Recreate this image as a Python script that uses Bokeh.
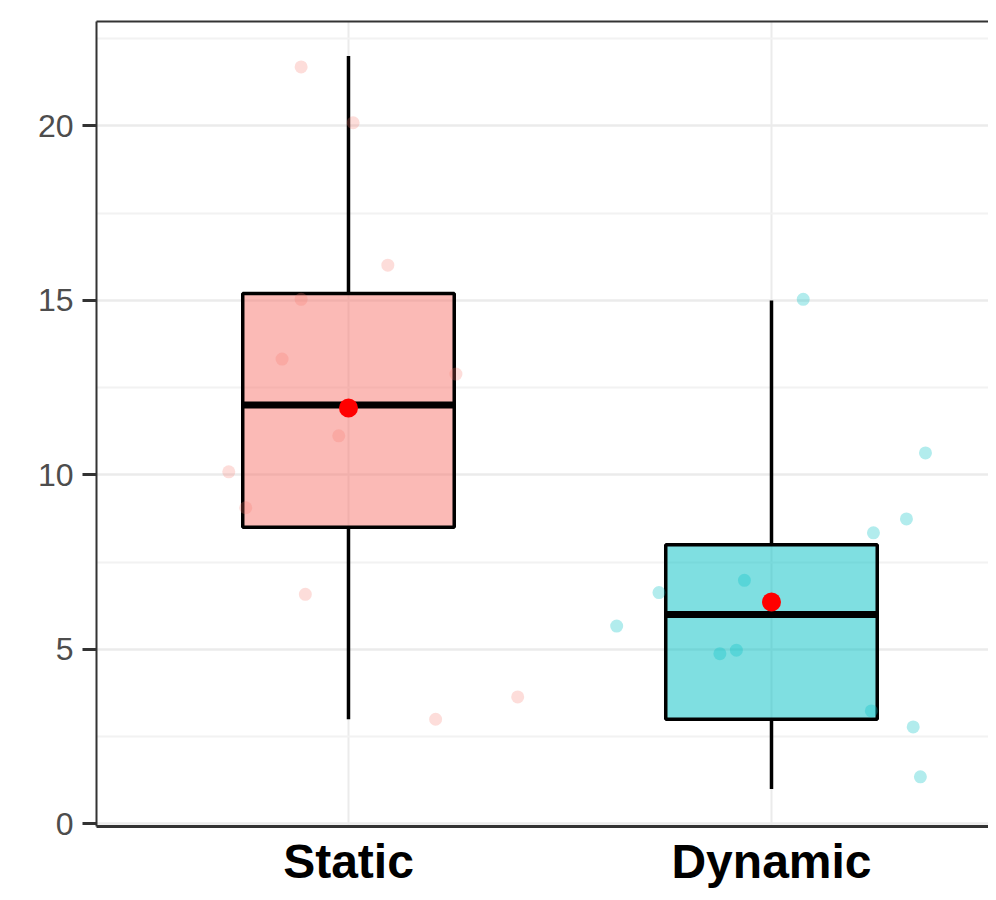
from bokeh.plotting import figure
from bokeh.models import FixedTicker, ColumnDataSource, LinearAxis
from bokeh.embed import file_html
from bokeh.resources import INLINE

# ---- data ----
groups = ["Static", "Dynamic"]
group_pos = [1, 2]
box_colors = ["#F8766D", "#00BFC4"]
point_alpha = [0.25, 0.3]

q1 = [8.5, 3.0]
q3 = [15.2, 8.0]
medians = [12.0, 6.0]
whisker_lo = [3.0, 1.0]
whisker_hi = [22.0, 15.0]
means = [11.92, 6.36]

static_vals = [21.69, 20.09, 16.01, 15.03, 13.32, 12.89, 11.12, 10.09, 9.06, 6.58, 3.64, 3.00]
static_jitter = [-0.112, 0.011, 0.093, -0.112, -0.157, 0.254, -0.023, -0.283, -0.243, -0.102, 0.400, 0.206]
dynamic_vals = [15.03, 10.63, 8.74, 8.34, 6.98, 6.63, 5.67, 4.88, 4.98, 3.24, 2.78, 1.35]
dynamic_jitter = [0.075, 0.364, 0.319, 0.241, -0.064, -0.266, -0.366, -0.122, -0.083, 0.236, 0.335, 0.352]

y_ticks = [0, 5, 10, 15, 20]
y_minor = [2.5, 7.5, 12.5, 17.5, 22.5]

box_half = 0.25

p = figure(width=988, height=892, output_backend="svg", toolbar_location=None,
           x_range=(0.4043, 2.513), y_range=(-0.072, 22.99),
           min_border_left=96, min_border_top=21, min_border_right=0, min_border_bottom=66)
p.background_fill_color = "white"
p.border_fill_color = "white"
p.outline_line_color = None

# grid
p.xgrid.ticker = FixedTicker(ticks=group_pos)
p.xgrid.grid_line_color = "#ebebeb"
p.xgrid.grid_line_width = 2
p.ygrid.ticker = FixedTicker(ticks=y_ticks, minor_ticks=y_minor)
p.ygrid.grid_line_color = "#ebebeb"
p.ygrid.grid_line_width = 2.5
p.ygrid.minor_grid_line_color = "#f2f2f2"
p.ygrid.minor_grid_line_width = 2

# y axis (left panel border + ticks)
p.yaxis.ticker = FixedTicker(ticks=y_ticks)
p.yaxis.axis_line_color = "#333333"
p.yaxis.axis_line_width = 2
p.yaxis.major_tick_line_color = "#333333"
p.yaxis.major_tick_line_width = 3
p.yaxis.major_tick_out = 14
p.yaxis.major_tick_in = 0
p.yaxis.minor_tick_line_color = None
p.yaxis.major_label_standoff = 9
p.yaxis.major_label_text_font = "Liberation Sans"
p.yaxis.major_label_text_font_size = "32px"
p.yaxis.major_label_text_color = "#4d4d4d"

# x axis (bottom panel border + category names)
p.xaxis.ticker = FixedTicker(ticks=group_pos)
p.xaxis.major_label_overrides = {g: n for g, n in zip(group_pos, groups)}
p.xaxis.axis_line_color = "#333333"
p.xaxis.axis_line_width = 3
p.xaxis.major_tick_line_color = None
p.xaxis.major_tick_out = 0
p.xaxis.major_tick_in = 0
p.xaxis.minor_tick_line_color = None
p.xaxis.major_label_standoff = 8
p.xaxis.major_label_text_font = "Liberation Sans"
p.xaxis.major_label_text_font_style = "bold"
p.xaxis.major_label_text_font_size = "48px"
p.xaxis.major_label_text_color = "black"

# top panel border
top_axis = LinearAxis(ticker=FixedTicker(ticks=[]), axis_line_color="#333333", axis_line_width=2,
                      major_tick_line_color=None, minor_tick_line_color=None,
                      major_label_text_font_size="0px", major_tick_out=0, major_tick_in=0,
                      major_label_standoff=0)
p.add_layout(top_axis, "above")

# boxes
bsrc = ColumnDataSource(dict(x=group_pos, q1=q1, q3=q3, med=medians, lo=whisker_lo, hi=whisker_hi,
                             mean=means, color=box_colors,
                             left=[g - box_half for g in group_pos], right=[g + box_half for g in group_pos]))
p.segment(x0="x", y0="q3", x1="x", y1="hi", source=bsrc, line_color="black", line_width=3.5)
p.segment(x0="x", y0="lo", x1="x", y1="q1", source=bsrc, line_color="black", line_width=3.5)
p.quad(left="left", right="right", bottom="q1", top="q3", source=bsrc,
       fill_color="color", fill_alpha=0.5, line_color="black", line_width=3.5)
p.segment(x0="left", y0="med", x1="right", y1="med", source=bsrc, line_color="black", line_width=7)

# jittered points
for g, vals, jit, col, a in zip(group_pos, [static_vals, dynamic_vals], [static_jitter, dynamic_jitter],
                                box_colors, point_alpha):
    p.scatter([g + j for j in jit], vals, size=13, fill_color=col, fill_alpha=a, line_color=None)

# means
p.scatter("x", "mean", source=bsrc, size=19, fill_color="red", line_color=None)

open("out.html", "w").write(file_html(p, INLINE))
